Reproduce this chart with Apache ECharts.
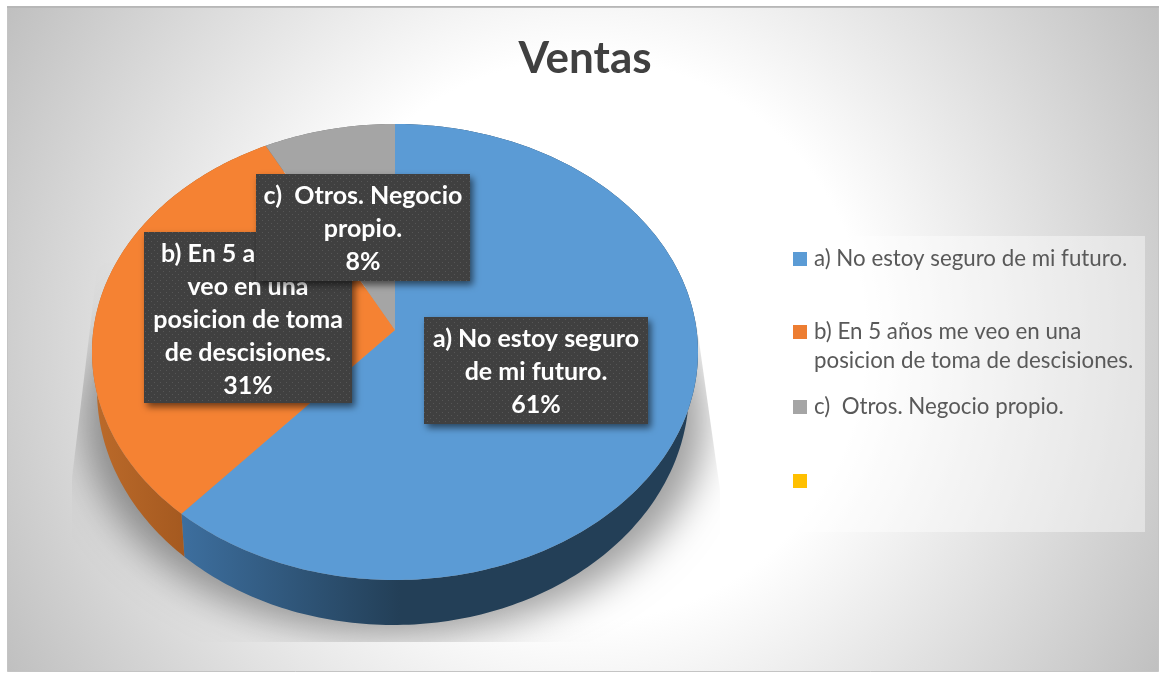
<!DOCTYPE html>
<html><head><meta charset="utf-8">
<style>html,body{margin:0;padding:0;background:#fff}#c{width:1160px;height:674px}</style>
<script src="https://cdn.jsdelivr.net/npm/echarts@6/dist/echarts.min.js"></script>
</head><body><div id="c"></div>
<script>
const titleText = 'Ventas';
const categories = ['a) No estoy seguro de mi futuro.', 'b) En 5 años me veo en una\nposicion de toma de descisiones.', 'c)  Otros. Negocio propio.', ' '];
const values = [61.4, 30.9, 7.7, 0];
const topColors = ['#5b9bd5', '#f58233', '#a5a5a5', '#ffc000'];
const legendColors = ['#5b9bd5', '#ed7d31', '#a5a5a5', '#ffc000'];
const labelLines = [
  ['a) No estoy seguro', 'de mi futuro.'],
  ['b) En 5 años me', 'veo en una', 'posicion de toma', 'de descisiones.'],
  ['c)  Otros. Negocio', 'propio.']
];

/* layout constants */
const FONT = 'Lato, "Noto Sans", sans-serif';
const topDisc = {cx: 395, cy: 352, rx: 303, ry: 228};
const baseDisc = {cx: 393, cy: 390, rx: 296, ry: 235};
const K = 0.0965;
const labelBoxes = [
  {x: 424, y: 317, w: 224, h: 107},
  {x: 144, y: 232, w: 208, h: 171},
  {x: 256, y: 174, w: 214, h: 107}
];
const legendCentres = [258, 331, 406, 480];

const total = values.reduce((a, b) => a + b, 0);
const starts = values.map((_, i) => values.slice(0, i).reduce((a, b) => a + b, 0) / total);

function rim(f, d) {
  const t = 2 * Math.PI * f, u = Math.sin(t), v = Math.cos(t), den = 1 + K * v;
  return [d.cx + d.rx * u * Math.sqrt(1 - K * K) / den, d.cy - d.ry * (v + K) / den];
}
function arc(f0, f1, d) {
  const n = Math.max(2, Math.ceil((f1 - f0) * 360)), p = [];
  for (let i = 0; i <= n; i++) p.push(rim(f0 + (f1 - f0) * i / n, d));
  return p;
}
function ellipsePts(cx, cy, rx, ry) {
  const p = [];
  for (let i = 0; i < 180; i++) { const t = i * Math.PI / 90; p.push([cx + rx * Math.cos(t), cy + ry * Math.sin(t)]); }
  return p;
}
const G = echarts.graphic;
const sideFills = [
  new G.LinearGradient(180, 0, 400, 0, [{offset: 0, color: '#3d6f9f'}, {offset: 1, color: '#233f57'}], true),
  new G.LinearGradient(95, 0, 190, 0, [{offset: 0, color: '#bb6a2a'}, {offset: 1, color: '#a3581f'}], true),
  '#6e6e6e'
];

const tile = document.createElement('canvas'); tile.width = tile.height = 6;
(function () {
  const c = tile.getContext('2d');
  c.fillStyle = '#404040'; c.fillRect(0, 0, 6, 6);
  c.fillStyle = '#565656'; c.fillRect(1, 1, 1, 1); c.fillRect(4, 4, 1, 1);
})();

const sliceData = values.slice(0, 3).map((v, i) => ({name: categories[i], value: v}));

const option = {
  animation: false,
  title: {
    text: titleText, left: 580, top: 32, textAlign: 'center',
    textStyle: {fontFamily: FONT, fontSize: 44, fontWeight: 'bold', color: '#404040'}
  },
  graphic: [
    {type: 'rect', z: -10, silent: true, shape: {x: 7.5, y: 6.5, width: 1151, height: 665},
      style: {fill: new G.RadialGradient(585, 340, 670, [{offset: 0, color: '#fff'}, {offset: 0.42, color: '#fff'}, {offset: 1, color: '#bfbfbf'}], true), stroke: '#c4c4c4', lineWidth: 1}},
    {type: 'rect', z: -9, silent: true, shape: {x: 7, y: 6, width: 1152, height: 2}, style: {fill: '#b4b4b4', opacity: 0.8}},
    {type: 'rect', z: -8, silent: true, shape: {x: 782, y: 236, width: 363, height: 296}, style: {fill: 'rgba(255,255,255,0.42)'}},
    {type: 'text', z: 20, silent: true, x: 814, y: 361, style: {text: categories[1].split('\n')[1], fontFamily: FONT, fontSize: 22.3, fill: '#595959', verticalAlign: 'middle'}}
  ],
  legend: categories.map((name, i) => ({
    data: [name], left: 793, top: legendCentres[i] - 10, padding: 0, itemWidth: 14, itemHeight: 14,
    selectedMode: false, icon: 'rect',
    formatter: n => n.split('\n')[0],
    textStyle: {fontFamily: FONT, fontSize: 22.3, color: '#595959', padding: [0, 0, 0, 2]}
  })),
  series: [
    {type: 'pie', radius: [0, 0], center: [395, 330], silent: true, label: {show: false}, labelLine: {show: false},
      data: categories.map((name, i) => ({name, value: values[i], itemStyle: {color: legendColors[i]}}))},
    {type: 'custom', coordinateSystem: 'none', silent: true, z: 1, data: [0],
      renderItem() {
        const off = 3000;
        return {type: 'polygon', shape: {points: ellipsePts(395 - off, 420, 310, 215)},
          clipPath: {type: 'polygon', shape: {points: [[98, 262], [72, 478], [72, 642], [720, 642], [720, 490], [696, 320]]}},
          style: {fill: '#000', shadowBlur: 38, shadowColor: 'rgba(0,0,0,0.38)', shadowOffsetX: off}};
      }},
    {type: 'custom', coordinateSystem: 'none', silent: true, z: 2, data: sliceData,
      renderItem(p) {
        const i = p.dataIndex, f0 = starts[i], f1 = f0 + values[i] / total;
        const pts = arc(f0, f1, topDisc).concat(arc(f0, f1, baseDisc).reverse());
        return {type: 'polygon', shape: {points: pts}, style: {fill: sideFills[i]}};
      }},
    {type: 'custom', coordinateSystem: 'none', silent: true, z: 3, data: sliceData,
      renderItem(p) {
        const i = p.dataIndex, f0 = starts[i], f1 = f0 + values[i] / total;
        const apex = [topDisc.cx, topDisc.cy - topDisc.ry * K];
        return {type: 'polygon', shape: {points: [apex].concat(arc(f0, f1, topDisc))}, style: {fill: topColors[i]}};
      }},
    {type: 'custom', coordinateSystem: 'none', silent: true, z: 4, data: sliceData,
      renderItem(p) {
        const i = p.dataIndex, b = labelBoxes[i];
        const text = labelLines[i].concat(Math.round(values[i] / total * 100) + '%').join('\n');
        return {type: 'group', children: [
          {type: 'rect', shape: {x: b.x, y: b.y, width: b.w, height: b.h},
            style: {fill: {image: tile, repeat: 'repeat'}, shadowBlur: 7, shadowOffsetX: 3, shadowOffsetY: 4, shadowColor: 'rgba(0,0,0,0.55)'}},
          {type: 'text', x: b.x + b.w / 2, y: b.y + b.h / 2 + (i === 1 ? 2 : 1),
            style: {text, fontFamily: FONT, fontSize: 25, fontWeight: 'bold', fill: '#fff', align: 'center', verticalAlign: 'middle', lineHeight: 33}}
        ]};
      }}
  ]
};
const chart = echarts.init(document.getElementById('c'), null, {renderer: 'canvas'});
chart.setOption(option);
</script></body></html>
